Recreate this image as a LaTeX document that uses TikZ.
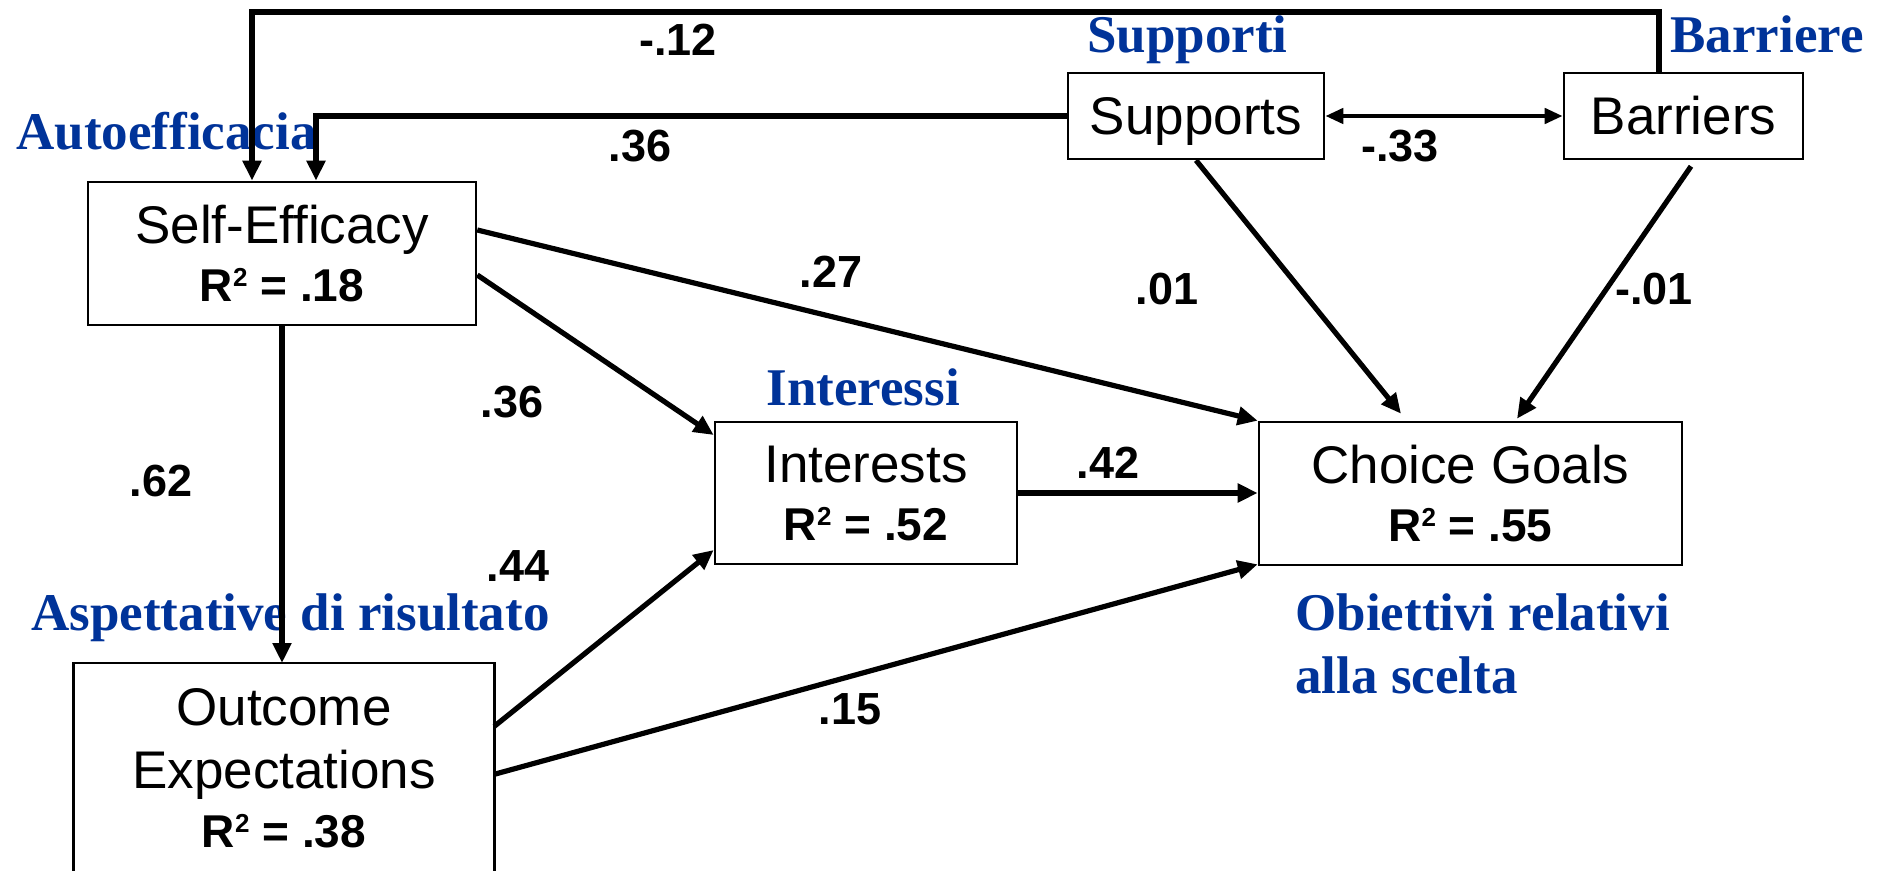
\documentclass[tikz,border=0pt]{standalone}
\usepackage{fontspec}
\setmainfont{Liberation Sans}
\newfontfamily\tnr{Liberation Serif}
\usetikzlibrary{arrows.meta,calc}
\definecolor{itblue}{RGB}{0,51,153}
\tikzset{
 box/.style={draw=black, line width=1.3pt, inner sep=0pt, align=center, font=\fontsize{26.5}{29}\selectfont},
 onebox/.style={box, text height=19pt, text depth=0pt},
 boxtxt/.style={inner sep=0pt, anchor=base},
 lab/.style={inner sep=0pt, font=\fontsize{22.5}{27}\selectfont\bfseries},
 itlab/.style={inner sep=0pt, anchor=base west, text=itblue, font=\fontsize{26.5}{31.5}\selectfont\tnr\bfseries},
 arr/.style={line width=2.6pt, -{Triangle[length=10pt,width=9pt]}},
 dblarr/.style={line width=2.2pt, {Triangle[length=9pt,width=7.5pt]}-{Triangle[length=9pt,width=7.5pt]}},
}
\newcommand{\rsq}{R\raisebox{7.3pt}{\fontsize{13}{13}\selectfont 2}}
\newcommand{\rsqline}[1]{{\fontsize{23}{29}\selectfont\bfseries #1}}
\begin{document}
\begin{tikzpicture}[x=0.5pt,y=-0.5pt]
\useasboundingbox (0,0) rectangle (1883,871);
\fill[white] (0,0) rectangle (1883,871);
% blue labels
\node[itlab] (tAuto) at (16,150) {Autoefficacia};
\node[itlab] (tSupp) at (1087,53) {Supporti};
\node[itlab] (tBarr) at (1670,53) {Barriere};
\node[itlab] (tInt) at (766,406) {Interessi};
\node[itlab] (tAsp) at (31,630) {Aspettative di risultato};
\node[itlab] (tObi1) at (1295,630) {Obiettivi relativi};
\node[itlab] (tObi2) at (1295,693) {alla scelta};
% boxes
\node[box, minimum width=194pt, minimum height=71.5pt] (se) at (282,253.5) {Self-Efficacy\\\rsqline{\rsq{} = .18}};
\node[onebox, minimum width=128pt, minimum height=43pt] (sup) at (1196,116) {Supports};
\node[onebox, minimum width=119.5pt, minimum height=43pt] (bar) at (1683.5,116) {Barriers};
\node[box, minimum width=151pt, minimum height=71pt] (int) at (866,493) {Interests\\\rsqline{\rsq{} = .52}};
\node[box, minimum width=211.5pt, minimum height=71.5pt] (cg) at (1470.5,493.5) {Choice Goals\\\rsqline{\rsq{} = .55}};
\node[box, draw=none, minimum width=209pt, minimum height=104pt, anchor=north] (oe) at (284,663) {};
\draw[line width=1.3pt] (oe.south west) |- (oe.north east) -- (oe.south east);
\node[boxtxt, font=\fontsize{26.5}{29}\selectfont] (oe1) at (284,725) {Outcome};
\node[boxtxt, font=\fontsize{26.5}{29}\selectfont] (oe2) at (284,788) {Expectations};
\node[boxtxt, font=\fontsize{23}{29}\selectfont\bfseries] (oe3) at (284,847) {\rsq{} = .38};
% path labels
\node[lab] (l12) at (678,40) {-.12};
\node[lab] (l36a) at (640,146) {.36};
\node[lab] (l33) at (1400,146) {-.33};
\node[lab] (l27) at (831,272) {.27};
\node[lab] (l01) at (1167,289) {.01};
\node[lab] (lm01) at (1654,289) {-.01};
\node[lab] (l36b) at (512,402) {.36};
\node[lab] (l62) at (161,481) {.62};
\node[lab] (l42) at (1108,463) {.42};
\node[lab] (l44) at (518,566) {.44};
\node[lab] (l15) at (850,709) {.15};
% connectors
\coordinate (top) at (0,12);
\coordinate (b1) at ([xshift=-12.25pt]bar.north);
\coordinate (s1) at ([xshift=-15pt]se.north);
\coordinate (s2) at ([xshift=17pt]se.north);
\draw[arr] (b1) -- (b1 |- top) -| (s1);
\draw[arr] (sup.west) -| (s2);
\draw[dblarr] (sup.east) -- (bar.west);
\draw[arr] (sup.south) -- ([xshift=-34.75pt,yshift=3.5pt]cg.north);
\draw[arr] ([xshift=3.75pt,yshift=-3pt]bar.south) -- ([xshift=23.25pt,yshift=1pt]cg.north);
\draw[arr] ([yshift=11.75pt]se.east) -- (cg.north west);
\draw[arr] ([yshift=-10.75pt]se.east) -- ([yshift=29pt]int.west);
\draw[arr] (se.south) -- (se.south |- oe.north);
\draw[arr] (int.east) -- (int.east -| cg.west);
\draw[arr] ([yshift=21pt]oe.east) -- ([yshift=-28.5pt]int.west);
\draw[arr] ([yshift=-3pt]oe.east) -- ([yshift=1pt]cg.south west);
\end{tikzpicture}
\end{document}
